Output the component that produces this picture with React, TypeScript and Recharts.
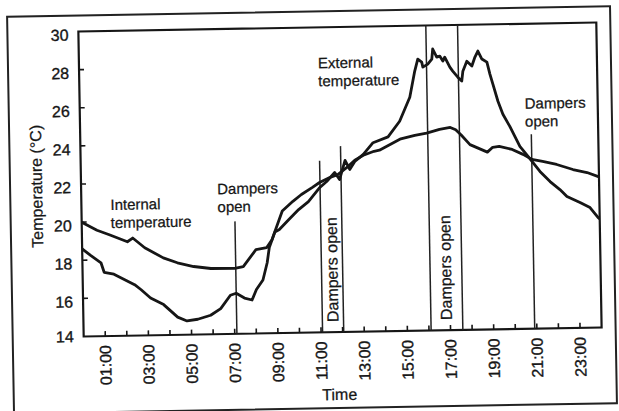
import React from 'react'
import { LineChart, Line, XAxis, YAxis, ReferenceLine, ReferenceArea } from 'recharts'

// external temperature (hours, °C)
const extHours = [
  0, 0.37, 0.86, 1.0, 1.45, 2.4, 2.7, 3.13, 3.73, 4.37, 4.8, 5.3, 5.9, 6.37, 6.83, 7.1, 7.48, 7.83,
  8.04, 8.35, 8.56, 8.67, 8.94, 9.15, 9.6, 10.06, 10.52, 11.06, 11.38, 11.76, 11.98, 12.25, 12.46,
  12.7, 13.1, 13.56, 14.26, 14.81, 15.3, 15.55, 15.7, 15.88, 15.93, 16.16, 16.35, 16.4, 16.58,
  16.72, 16.86, 16.95, 17.18, 17.31, 17.54, 17.72, 17.78, 17.97, 18.2, 18.35, 18.49, 18.67, 18.9,
  19.03, 19.16, 19.38, 19.6, 19.91, 20.36, 20.73, 20.91, 21.27, 21.73, 22.18, 22.5, 23.1, 23.56,
  23.93, 24,
]
const extTemps = [
  18.6, 18.26, 17.85, 17.35, 17.24, 16.67, 16.4, 15.96, 15.6, 14.93, 14.72, 14.8, 15.0, 15.34,
  16.03, 16.13, 15.87, 15.76, 16.31, 16.8, 17.7, 18.5, 19.3, 19.43, 19.95, 20.46, 20.87, 21.6,
  21.91, 22.37, 22.0, 23.0, 22.52, 22.93, 23.3, 23.9, 24.19, 25.0, 26.25, 27.62, 28.24, 28.08,
  27.82, 27.97, 28.23, 28.76, 28.33, 28.38, 28.12, 28.32, 27.79, 27.58, 27.26, 27.05, 27.57,
  28.09, 27.83, 28.3, 28.61, 28.19, 28.02, 27.39, 26.86, 25.96, 25.27, 24.63, 23.57, 23.04,
  22.77, 22.24, 21.7, 21.27, 20.9, 20.57, 20.3, 19.76, 19.7,
]

// internal temperature
const intHours = [
  0, 0.7, 1.3, 2.1, 2.35, 2.9, 3.75, 4.4, 5.15, 5.95, 7.05, 7.45, 8.05, 8.55, 8.8, 9.0, 9.3, 9.8,
  10.2, 10.7, 11.05, 11.5, 11.9, 12.3, 12.7, 13.1, 13.6, 13.85, 14.85, 15.5, 16.05, 16.65, 17.15,
  17.4, 17.65, 18.05, 18.85, 19.1, 19.4, 20.0, 20.5, 20.9, 21.4, 22.05, 22.8, 23.45, 24,
]
const intTemps = [
  20.0, 19.56, 19.3, 18.93, 19.12, 18.6, 18.05, 17.78, 17.57, 17.45, 17.43, 17.52, 18.4, 18.5,
  18.9, 19.5, 20.4, 20.9, 21.25, 21.6, 21.86, 22.1, 22.26, 22.6, 23.0, 23.25, 23.45, 23.5, 24.08,
  24.25, 24.35, 24.54, 24.63, 24.5, 24.22, 23.71, 23.3, 23.55, 23.59, 23.42, 23.15, 22.88, 22.76,
  22.59, 22.31, 22.14, 21.9,
]

// "dampers open" markers: hour and how high the line is drawn
const damperHours = [7.1, 11.07, 12.05, 16.1, 17.57, 20.9]
const damperTops = [19.9, 23.0, 23.75, 30, 30, 24.2]

const yTicks = [14, 16, 18, 20, 22, 24, 26, 28, 30]
const xTicks = [1, 2, 3, 4, 5, 6, 7, 8, 9, 10, 11, 12, 13, 14, 15, 16, 17, 18, 19, 20, 21, 22, 23]
const fmtHour = (h: number) => (h < 10 ? '0' : '') + h + ':00'

const extData = extHours.map((h, i) => ({ h, t: extTemps[i] }))
const intData = intHours.map((h, i) => ({ h, t: intTemps[i] }))

const FONT = '"Liberation Sans", Arial, sans-serif'
const INK = '#161616'

const XTick = (props: any) => {
  const { x, y, payload } = props
  const h = payload.value
  return (
    <g>
      <line x1={x} x2={x} y1={y} y2={y - 5} stroke={INK} strokeWidth={1.6} />
      {h % 2 === 1 && (
        <text
          transform={`translate(${x},${y + 9}) rotate(-90)`}
          textAnchor="end"
          dy={5.5}
          fontSize={16}
          fontFamily={FONT}
          fill={INK}
          stroke={INK}
          strokeWidth={0.35}
        >
          {fmtHour(h)}
        </text>
      )}
    </g>
  )
}

const YTick = (props: any) => {
  const { x, y, payload } = props
  const v = payload.value
  return (
    <g>
      {v > 14 && v < 30 && <line x1={x} x2={x + 5} y1={y} y2={y} stroke={INK} strokeWidth={1.6} />}
      <text
        x={x - 10}
        y={y}
        dy={v === 14 ? 5.5 : 9}
        textAnchor="end"
        fontSize={16}
        fontFamily={FONT}
        fill={INK}
        stroke={INK}
        strokeWidth={0.35}
      >
        {v}
      </text>
    </g>
  )
}

const txt = { fontSize: 16, fontFamily: FONT, fill: INK, stroke: INK, strokeWidth: 0.25 }
const note = { ...txt, fontSize: 15 }

export default function App() {
  return (
    <div
      style={{
        position: 'absolute',
        left: 0,
        top: 0,
        width: 619,
        height: 411,
        background: '#fff',
        transform: 'rotate(-1deg)',
        transformOrigin: '340px 180px',
      }}
    >
      <div
        style={{
          position: 'absolute',
          left: 9,
          top: 10,
          width: 605,
          height: 399,
          border: '2px solid #222',
          boxSizing: 'border-box',
        }}
      />
      <div style={{ position: 'absolute', left: 0, top: 0 }}>
        <LineChart width={619} height={411} margin={{ top: 27, right: 20, bottom: 49, left: 40 }}>
          <XAxis
            dataKey="h"
            type="number"
            domain={[0, 24]}
            ticks={xTicks}
            interval={0}
            allowDataOverflow
            axisLine={false}
            tickLine={false}
            tickSize={0}
            tickMargin={0}
            height={30}
            tick={<XTick />}
          />
          <YAxis
            type="number"
            domain={[14, 30]}
            ticks={yTicks}
            interval={0}
            allowDataOverflow
            axisLine={false}
            tickLine={false}
            tickSize={0}
            tickMargin={0}
            width={41}
            tick={<YTick />}
          />
          <ReferenceArea x1={0} x2={24} y1={14} y2={30} fill="none" stroke={INK} strokeWidth={2.2} ifOverflow="visible" />
          {damperHours.map((h, i) => (
            <ReferenceLine
              key={i}
              segment={[
                { x: h, y: 14 },
                { x: h, y: damperTops[i] },
              ]}
              stroke="#222"
              strokeWidth={1.5}
              ifOverflow="visible"
            />
          ))}
          <Line
            data={intData}
            dataKey="t"
            type="linear"
            stroke={INK}
            strokeWidth={2.8}
            strokeLinejoin="round"
            dot={false}
            isAnimationActive={false}
          />
          <Line
            data={extData}
            dataKey="t"
            type="linear"
            stroke={INK}
            strokeWidth={2.8}
            strokeLinejoin="round"
            dot={false}
            isAnimationActive={false}
          />
        </LineChart>
      </div>
      <svg width={619} height={411} style={{ position: 'absolute', left: 0, top: 0, pointerEvents: 'none' }}>
        <text {...txt} x={42} y={181} textAnchor="middle" transform="rotate(-90 42 181)">
          Temperature (°C)
        </text>
        <text {...txt} x={336} y={400} textAnchor="middle">
          Time
        </text>
        <text {...note} x={110} y={206}>
          Internal
        </text>
        <text {...note} x={110} y={224}>
          temperature
        </text>
        <text {...note} x={217} y={192}>
          Dampers
        </text>
        <text {...note} x={217} y={210}>
          open
        </text>
        <text {...note} x={320} y={68}>
          External
        </text>
        <text {...note} x={320} y={86}>
          temperature
        </text>
        <text {...note} x={526} y={112}>
          Dampers
        </text>
        <text {...note} x={526} y={130}>
          open
        </text>
        <text {...txt} x={336} y={322} transform="rotate(-90 336 322)">
          Dampers open
        </text>
        <text {...txt} x={449.5} y={322} transform="rotate(-90 449.5 322)">
          Dampers open
        </text>
      </svg>
    </div>
  )
}
